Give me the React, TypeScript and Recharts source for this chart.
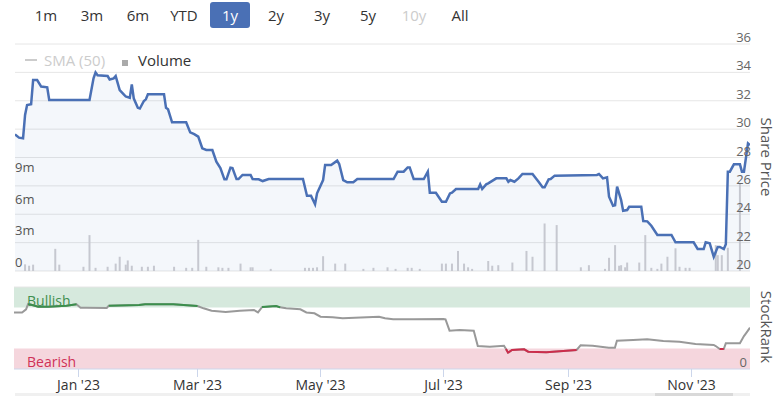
import {
  ComposedChart,
  LineChart,
  Line,
  Area,
  Bar,
  XAxis,
  YAxis,
  CartesianGrid,
  ReferenceArea,
  ReferenceLine,
} from "recharts"

const FONT = '"Open Sans", "Noto Sans", Arial, sans-serif'
const BLUE = "#4a70b5"

const RANGE_BUTTONS = ["1m", "3m", "6m", "YTD", "1y", "2y", "3y", "5y", "10y", "All"]
const ACTIVE_RANGE = "1y"
const DISABLED_RANGE = "10y"

// Share price (date, price)
const PRICE: [string, number][] = [
  ["2022-11-30", 29.63], ["2022-12-02", 29.4], ["2022-12-04", 29.35], ["2022-12-05", 31.0],
  ["2022-12-06", 31.7], ["2022-12-08", 31.75], ["2022-12-09", 33.46], ["2022-12-11", 33.46],
  ["2022-12-13", 33.0], ["2022-12-16", 32.95], ["2022-12-17", 32.05], ["2023-01-06", 32.05],
  ["2023-01-08", 33.58], ["2023-01-09", 34.0], ["2023-01-10", 33.8], ["2023-01-15", 33.74],
  ["2023-01-16", 33.5], ["2023-01-18", 33.58], ["2023-01-19", 33.74], ["2023-01-21", 32.75],
  ["2023-01-23", 32.45], ["2023-01-24", 32.3], ["2023-01-26", 32.2], ["2023-01-27", 33.15],
  ["2023-01-28", 32.15], ["2023-01-30", 31.5], ["2023-01-31", 31.45], ["2023-02-02", 31.98],
  ["2023-02-03", 32.1], ["2023-02-04", 32.45], ["2023-02-12", 32.45], ["2023-02-13", 31.5],
  ["2023-02-14", 31.4], ["2023-02-16", 30.48], ["2023-02-23", 30.48], ["2023-02-25", 29.77],
  ["2023-02-27", 29.65], ["2023-03-01", 29.47], ["2023-03-03", 28.65], ["2023-03-05", 28.53],
  ["2023-03-08", 28.53], ["2023-03-10", 27.7], ["2023-03-12", 27.25], ["2023-03-14", 26.46],
  ["2023-03-15", 26.46], ["2023-03-17", 27.28], ["2023-03-18", 27.25], ["2023-03-20", 26.48],
  ["2023-03-21", 26.48], ["2023-03-23", 26.77], ["2023-03-27", 26.77], ["2023-03-28", 26.48],
  ["2023-03-31", 26.46], ["2023-04-02", 26.34], ["2023-04-05", 26.48], ["2023-04-22", 26.48],
  ["2023-04-24", 25.3], ["2023-04-26", 25.3], ["2023-04-28", 24.7], ["2023-04-29", 25.48],
  ["2023-05-02", 26.41], ["2023-05-03", 27.47], ["2023-05-06", 27.47], ["2023-05-09", 27.78],
  ["2023-05-10", 27.54], ["2023-05-12", 26.41], ["2023-05-14", 26.25], ["2023-05-17", 26.25],
  ["2023-05-19", 26.48], ["2023-06-06", 26.48], ["2023-06-08", 27.0], ["2023-06-11", 27.0],
  ["2023-06-13", 27.3], ["2023-06-14", 27.3], ["2023-06-16", 26.48], ["2023-06-21", 26.48],
  ["2023-06-23", 27.0], ["2023-06-24", 25.52], ["2023-06-27", 25.52], ["2023-06-30", 24.88],
  ["2023-07-02", 24.88], ["2023-07-04", 25.47], ["2023-07-05", 25.52], ["2023-07-07", 25.78],
  ["2023-07-18", 25.78], ["2023-07-19", 26.11], ["2023-07-20", 25.78], ["2023-07-22", 26.11],
  ["2023-07-23", 26.18], ["2023-07-27", 26.53], ["2023-08-01", 26.53], ["2023-08-02", 26.29],
  ["2023-08-03", 26.41], ["2023-08-05", 26.29], ["2023-08-07", 26.53], ["2023-08-09", 26.84],
  ["2023-08-14", 26.84], ["2023-08-17", 26.29], ["2023-08-19", 25.9], ["2023-08-20", 25.9],
  ["2023-08-22", 26.46], ["2023-08-23", 26.48], ["2023-08-25", 26.72], ["2023-09-15", 26.77],
  ["2023-09-16", 26.84], ["2023-09-18", 26.53], ["2023-09-20", 26.6], ["2023-09-21", 25.24],
  ["2023-09-23", 24.6], ["2023-09-24", 24.64], ["2023-09-25", 25.94], ["2023-09-27", 25.0],
  ["2023-09-28", 24.25], ["2023-09-30", 24.3], ["2023-10-01", 24.53], ["2023-10-07", 24.53],
  ["2023-10-08", 23.52], ["2023-10-10", 23.5], ["2023-10-12", 23.19], ["2023-10-15", 22.54],
  ["2023-10-22", 22.54], ["2023-10-24", 22.02], ["2023-11-02", 22.02], ["2023-11-04", 21.55],
  ["2023-11-07", 21.55], ["2023-11-08", 22.02], ["2023-11-10", 21.95], ["2023-11-12", 21.0],
  ["2023-11-14", 21.7], ["2023-11-15", 21.7], ["2023-11-17", 21.55], ["2023-11-18", 21.88],
  ["2023-11-19", 27.0], ["2023-11-20", 27.0], ["2023-11-22", 27.52], ["2023-11-25", 27.52],
  ["2023-11-26", 27.0], ["2023-11-27", 27.0], ["2023-11-29", 29.0], ["2023-11-30", 28.88],
]

// Volume in millions (date, volume)
const VOLUME: [string, number][] = [
  ["2022-12-05", 0.63], ["2022-12-07", 0.5], ["2022-12-09", 0.6], ["2022-12-20", 2.1],
  ["2022-12-22", 0.6], ["2023-01-03", 0.4], ["2023-01-06", 3.4], ["2023-01-09", 0.3],
  ["2023-01-15", 0.4], ["2023-01-19", 0.7], ["2023-01-21", 1.35], ["2023-01-24", 0.6],
  ["2023-01-25", 1.0], ["2023-01-27", 0.5], ["2023-02-01", 0.4], ["2023-02-04", 0.4],
  ["2023-02-07", 0.5], ["2023-02-17", 0.4], ["2023-02-23", 0.3], ["2023-02-26", 0.3],
  ["2023-03-01", 2.95], ["2023-03-05", 0.4], ["2023-03-11", 0.35], ["2023-03-13", 0.3],
  ["2023-03-16", 0.3], ["2023-03-22", 0.7], ["2023-03-27", 0.35], ["2023-03-28", 0.35],
  ["2023-04-06", 0.2], ["2023-04-23", 0.3], ["2023-04-25", 0.3], ["2023-04-27", 0.3],
  ["2023-04-29", 0.35], ["2023-05-02", 1.4], ["2023-05-08", 0.7], ["2023-05-13", 0.7],
  ["2023-05-22", 0.2], ["2023-05-27", 0.3], ["2023-06-03", 0.35], ["2023-06-07", 0.2],
  ["2023-06-13", 0.3], ["2023-06-15", 0.3], ["2023-06-19", 0.2], ["2023-06-30", 0.7],
  ["2023-07-02", 0.7], ["2023-07-05", 0.7], ["2023-07-08", 1.9], ["2023-07-11", 0.7],
  ["2023-07-13", 0.35], ["2023-07-15", 0.2], ["2023-07-23", 0.95], ["2023-07-25", 0.5],
  ["2023-07-28", 0.55], ["2023-08-04", 0.8], ["2023-08-11", 1.9], ["2023-08-14", 1.35],
  ["2023-08-20", 4.5], ["2023-08-26", 4.35], ["2023-09-07", 0.35], ["2023-09-11", 0.55],
  ["2023-09-19", 0.2], ["2023-09-21", 1.25], ["2023-09-24", 2.45], ["2023-09-26", 0.5],
  ["2023-09-27", 0.55], ["2023-09-29", 0.35], ["2023-09-30", 0.8], ["2023-10-06", 0.8],
  ["2023-10-09", 3.4], ["2023-10-12", 0.3], ["2023-10-15", 0.2], ["2023-10-17", 0.7],
  ["2023-10-20", 1.35], ["2023-10-24", 2.15], ["2023-10-26", 0.4], ["2023-10-29", 0.3],
  ["2023-10-31", 0.3], ["2023-11-13", 2.45], ["2023-11-14", 1.5], ["2023-11-16", 1.5],
  ["2023-11-19", 2.2], ["2023-11-25", 8.3],
]

// StockRank (date, rank 0-100)
const RANK: [string, number][] = [
  ["2022-11-30", 69], ["2022-12-04", 69], ["2022-12-06", 72.8], ["2022-12-07", 79.3],
  ["2022-12-09", 78], ["2022-12-12", 76], ["2022-12-17", 76], ["2022-12-26", 77.2],
  ["2022-12-31", 78.9], ["2023-01-02", 74.8], ["2023-01-05", 74.6], ["2023-01-15", 74.4],
  ["2023-01-16", 77.2], ["2023-01-31", 78], ["2023-02-03", 78.9], ["2023-02-17", 78.9],
  ["2023-03-01", 76.8], ["2023-03-04", 74], ["2023-03-08", 71], ["2023-03-15", 69.5],
  ["2023-03-22", 71], ["2023-03-29", 72], ["2023-03-31", 69], ["2023-04-02", 75.5],
  ["2023-04-09", 76.8], ["2023-04-11", 75.2], ["2023-04-14", 74], ["2023-04-21", 72.8],
  ["2023-04-24", 69], ["2023-04-28", 67.9], ["2023-05-01", 63.8], ["2023-05-07", 63],
  ["2023-05-12", 61.8], ["2023-05-24", 63], ["2023-05-30", 63.8], ["2023-06-02", 61.8],
  ["2023-06-06", 60.6], ["2023-06-16", 60.6], ["2023-07-01", 61], ["2023-07-02", 60.6],
  ["2023-07-04", 46.7], ["2023-07-09", 47.6], ["2023-07-16", 46.7], ["2023-07-18", 28],
  ["2023-07-24", 27.2], ["2023-07-31", 28.4], ["2023-08-01", 24.4], ["2023-08-02", 19.9],
  ["2023-08-04", 23.2], ["2023-08-10", 24], ["2023-08-12", 21.1], ["2023-08-21", 20.3],
  ["2023-08-31", 22.4], ["2023-09-05", 23.2], ["2023-09-07", 28.9], ["2023-09-13", 28.4],
  ["2023-09-21", 26], ["2023-09-24", 26], ["2023-09-25", 34.5], ["2023-10-03", 35.4],
  ["2023-10-10", 36.2], ["2023-10-18", 34.1], ["2023-10-26", 33.3], ["2023-11-03", 30.5],
  ["2023-11-12", 29.3], ["2023-11-13", 28], ["2023-11-15", 24.4], ["2023-11-17", 24.4],
  ["2023-11-18", 31.3], ["2023-11-25", 31.3], ["2023-11-27", 40.2], ["2023-11-28", 43.5],
  ["2023-11-30", 50.4],
]

const PRICE_TICKS = [20, 22, 24, 26, 28, 30, 32, 34, 36]
const VOLUME_TICKS = [0, 3, 6, 9]
const RANK_TICKS = [0]
const MONTH_TICKS = ["2023-01-01", "2023-03-01", "2023-05-01", "2023-07-01", "2023-09-01", "2023-11-01"]
const MONTH_LABELS = ["Jan '23", "Mar '23", "May '23", "Jul '23", "Sep '23", "Nov '23"]

const BULLISH_MIN = 75
const BEARISH_MAX = 25

const ORIGIN = Date.UTC(2023, 0, 1)
const toDay = (iso: string) => Math.round((Date.parse(iso) - ORIGIN) / 86400000)
const X_DOMAIN = [toDay("2022-11-30"), toDay("2023-11-30")]
const MONTH_DAYS = MONTH_TICKS.map(toDay)

const PLOT_LEFT = 15
const PLOT_RIGHT = 750

// merge price + volume into one table for the composed chart
const mainRows = new Map<number, { day: number; price: number | null; volume: number | null }>()
PRICE.forEach(([d, p]) => {
  const day = toDay(d)
  mainRows.set(day, { day, price: p, volume: null })
})
VOLUME.forEach(([d, v]) => {
  const day = toDay(d)
  const row = mainRows.get(day)
  if (row) row.volume = v
  else mainRows.set(day, { day, price: null, volume: v })
})
const mainData = [...mainRows.values()].sort((a, b) => a.day - b.day)

const rankData = RANK.map(([d, v]) => ({
  day: toDay(d),
  rank: v,
  bullish: v >= BULLISH_MIN ? v : null,
  bearish: v <= BEARISH_MAX ? v : null,
}))

// labels sit just above their gridline, Highcharts-style
const rightTick = (dx: number) => (props: any) => (
  <text x={PLOT_RIGHT + dx} y={props.payload.coordinate - 2} textAnchor="end" fontSize={13} fill="#666">
    {props.payload.value}
  </text>
)

const volumeTick = (props: any) => (
  <text x={PLOT_LEFT} y={props.payload.coordinate - 4} textAnchor="start" fontSize={13} fill="#555">
    {props.payload.value === 0 ? "0" : `${props.payload.value}m`}
  </text>
)

export default function App() {
  return (
    <div
      style={{
        position: "absolute",
        left: 0,
        top: 0,
        width: 780,
        height: 396,
        background: "#fff",
        fontFamily: FONT,
        overflow: "hidden",
      }}
    >
      {/* range selector */}
      {RANGE_BUTTONS.map((label, i) => (
        <div
          key={label}
          style={{
            position: "absolute",
            left: 26 + i * 46,
            top: 2,
            width: 40,
            height: 26,
            lineHeight: "26px",
            textAlign: "center",
            fontSize: 15,
            borderRadius: 3,
            background: label === ACTIVE_RANGE ? BLUE : "transparent",
            color: label === ACTIVE_RANGE ? "#fff" : label === DISABLED_RANGE ? "#ccc" : "#333",
          }}
        >
          {label}
        </div>
      ))}

      {/* main price + volume chart */}
      <div style={{ position: "absolute", left: 0, top: 0 }}>
        <ComposedChart
          width={780}
          height={272}
          data={mainData}
          margin={{ top: 44, right: 29, bottom: 1, left: 14 }}
        >
          <CartesianGrid yAxisId="price" vertical={false} stroke="#e6e6e6" />
          <XAxis dataKey="day" type="number" domain={X_DOMAIN} hide allowDataOverflow />
          <YAxis
            yAxisId="price"
            orientation="right"
            domain={[20, 36]}
            ticks={PRICE_TICKS}
            width={1}
            axisLine={false}
            tickLine={false}
            tick={rightTick(1)}
            interval={0}
            allowDataOverflow
          />
          <YAxis
            yAxisId="volume"
            orientation="left"
            domain={[0, 21.5]}
            ticks={VOLUME_TICKS}
            width={1}
            axisLine={false}
            tickLine={false}
            tick={volumeTick}
            interval={0}
            allowDataOverflow
          />
          <Area
            yAxisId="price"
            dataKey="price"
            type="linear"
            stroke="none"
            fill={BLUE}
            fillOpacity={0.06}
            connectNulls
            isAnimationActive={false}
          />
          <Bar yAxisId="volume" dataKey="volume" fill="#c6c8d0" barSize={2} isAnimationActive={false} />
          <Line
            yAxisId="price"
            dataKey="price"
            type="linear"
            stroke={BLUE}
            strokeWidth={2.5}
            dot={false}
            connectNulls
            isAnimationActive={false}
          />
        </ComposedChart>
      </div>

      {/* legend */}
      <div style={{ position: "absolute", left: 25, top: 59, width: 12, height: 2, background: "#ccc" }} />
      <div style={{ position: "absolute", left: 44, top: 49, fontSize: 15, lineHeight: "22px", color: "#ccc" }}>
        SMA (50)
      </div>
      <div style={{ position: "absolute", left: 122, top: 60, width: 6, height: 6, background: "#aaa" }} />
      <div style={{ position: "absolute", left: 138, top: 49, fontSize: 15, lineHeight: "22px", color: "#333" }}>
        Volume
      </div>

      {/* StockRank panel */}
      <div style={{ position: "absolute", left: 0, top: 280 }}>
        <LineChart width={780} height={116} data={rankData} margin={{ top: 7, right: 29, bottom: 0, left: 14 }}>
          <XAxis
            dataKey="day"
            type="number"
            domain={X_DOMAIN}
            ticks={MONTH_DAYS}
            tickFormatter={(v: number) => MONTH_LABELS[MONTH_DAYS.indexOf(v)]}
            height={27}
            tickSize={8}
            tickMargin={3}
            stroke="#ccd6eb"
            tick={{ fill: "#333", fontSize: 14 }}
            interval={0}
            allowDataOverflow
          />
          <YAxis
            orientation="right"
            domain={[0, 100]}
            ticks={RANK_TICKS}
            width={1}
            axisLine={false}
            tickLine={false}
            tick={rightTick(-3)}
            interval={0}
          />
          <ReferenceArea
            y1={BULLISH_MIN}
            y2={100}
            fill="#d6e9dd"
            fillOpacity={1}
            stroke="none"
            label={(p: any) => (
              <text x={p.viewBox.x + 13} y={p.viewBox.y + 19} fontSize={14} fill="#3f8f4f">
                Bullish
              </text>
            )}
          />
          <ReferenceArea
            y1={0}
            y2={BEARISH_MAX}
            fill="#f5d6dd"
            fillOpacity={1}
            stroke="none"
            label={(p: any) => (
              <text x={p.viewBox.x + 13} y={p.viewBox.y + 18} fontSize={14} fill="#cf3158">
                Bearish
              </text>
            )}
          />
          <ReferenceLine y={100} stroke="#e6e6e6" />
          <Line dataKey="rank" stroke="#999" strokeWidth={2} dot={false} isAnimationActive={false} />
          <Line dataKey="bullish" stroke="#3b8f4c" strokeWidth={2} dot={false} isAnimationActive={false} />
          <Line dataKey="bearish" stroke="#cc2e4c" strokeWidth={2} dot={false} isAnimationActive={false} />
        </LineChart>
      </div>

      {/* axis titles */}
      <svg width={780} height={396} style={{ position: "absolute", left: 0, top: 0, pointerEvents: "none" }}>
        <text x={767} y={157} transform="rotate(90 767 157)" textAnchor="middle" dominantBaseline="central" fontSize={15} fill="#555">
          Share Price
        </text>
        <text x={767} y={327} transform="rotate(90 767 327)" textAnchor="middle" dominantBaseline="central" fontSize={15} fill="#555">
          StockRank
        </text>
      </svg>

      {/* navigator strip edge */}
      <div style={{ position: "absolute", left: 15, top: 393, width: 735, height: 3, background: "#f0f0f0" }} />
      <div style={{ position: "absolute", left: 655, top: 393, width: 78, height: 3, background: "#d9d9d9" }} />
    </div>
  )
}
